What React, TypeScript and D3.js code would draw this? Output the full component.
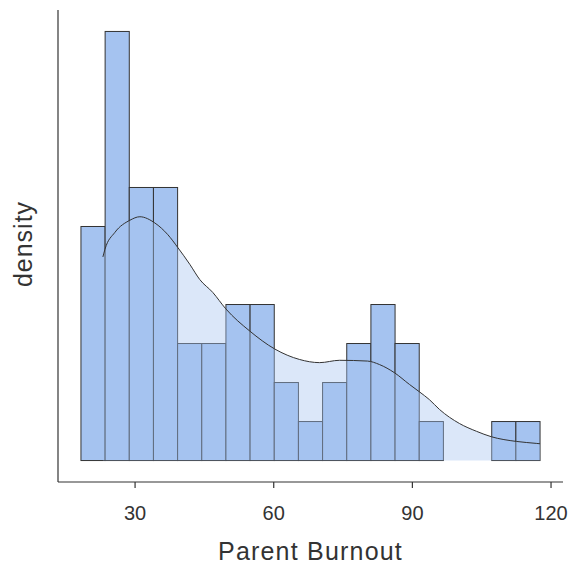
import React from "react";
import * as d3 from "d3";

// Histogram bins (counts), bin geometry in data units
const binStart = 18.29;
const binWidth = 5.228;
const binCounts = [6, 11, 7, 7, 3, 3, 4, 4, 2, 1, 2, 3, 4, 3, 1, 0, 0, 1, 1];

// Density curve (scaled to counts)
const densX = [23.04, 23.47, 25.64, 28.88, 31.04, 34.28, 37.09, 39.25, 41.84, 44.0, 46.81, 49.62, 54.81, 60.21, 65.61, 69.93, 74.25, 80.3, 82.9, 86.13, 89.38, 91.54, 93.7, 95.86, 100.18, 103.86, 107.1, 112.5, 116.8, 117.62];
const densY = [5.22, 5.41, 5.85, 6.16, 6.25, 6.09, 5.79, 5.46, 5.03, 4.64, 4.31, 3.89, 3.32, 2.86, 2.59, 2.51, 2.57, 2.55, 2.46, 2.25, 1.95, 1.76, 1.56, 1.31, 0.95, 0.75, 0.61, 0.49, 0.44, 0.43];

const xTicks = [30, 60, 90, 120];
const xTitle = "Parent Burnout";
const yTitle = "density";

const W = 569;
const H = 565;
const FONT = "'Liberation Sans', Arial, sans-serif";

export default function App() {
  const binEnd = binStart + binWidth * binCounts.length;
  const xPad = (binEnd - binStart) * 0.05;
  const maxC = d3.max(binCounts) as number;
  const x = d3.scaleLinear().domain([binStart - xPad, binEnd + xPad]).range([58, 563]);
  const y = d3.scaleLinear().domain([-maxC * 0.05, maxC * 1.05]).range([482, 10]);

  const pts: [number, number][] = densX.map((v, i) => [v, densY[i]]);
  const area = d3
    .area<[number, number]>()
    .x((d) => x(d[0]))
    .y0(y(0))
    .y1((d) => y(d[1]))
    .curve(d3.curveMonotoneX);
  const line = d3
    .line<[number, number]>()
    .x((d) => x(d[0]))
    .y((d) => y(d[1]))
    .curve(d3.curveMonotoneX);

  const barFill = "#a5c3f0";
  const stroke = "#333333";

  return (
    <svg
      width={W}
      height={H}
      style={{ position: "absolute", left: 0, top: 0, background: "#ffffff" }}
    >
      <rect x={0} y={0} width={W} height={H} fill="#ffffff" />
      <g>
        {binCounts.map((c, i) =>
          c > 0 ? (
            <rect
              key={i}
              x={x(binStart + i * binWidth)}
              y={y(c)}
              width={x(binStart + (i + 1) * binWidth) - x(binStart + i * binWidth)}
              height={y(0) - y(c)}
              fill={barFill}
              stroke={stroke}
              strokeWidth={1}
            />
          ) : null
        )}
      </g>
      <path d={area(pts) || ""} fill={barFill} fillOpacity={0.4} stroke="none" />
      <path d={line(pts) || ""} fill="none" stroke={stroke} strokeWidth={1} />
      {/* axes */}
      <line x1={58} x2={58} y1={10} y2={482} stroke="#333" strokeWidth={1.2} />
      <line x1={58} x2={563} y1={482} y2={482} stroke="#333" strokeWidth={1.2} />
      {xTicks.map((t) => (
        <g key={t} transform={`translate(${x(t)},482)`}>
          <line y1={0} y2={6} stroke="#333" strokeWidth={1.2} />
          <text y={38} textAnchor="middle" fontFamily={FONT} fontSize={20} fill="#333">
            {t}
          </text>
        </g>
      ))}
      <text
        x={(58 + 563) / 2}
        y={560}
        textAnchor="middle"
        fontFamily={FONT}
        fontSize={25}
        letterSpacing={1.2}
        fill="#333"
      >
        {xTitle}
      </text>
      <text
        transform={`translate(32,244) rotate(-90)`}
        textAnchor="middle"
        fontFamily={FONT}
        fontSize={25}
        letterSpacing={1}
        fill="#333"
      >
        {yTitle}
      </text>
    </svg>
  );
}
